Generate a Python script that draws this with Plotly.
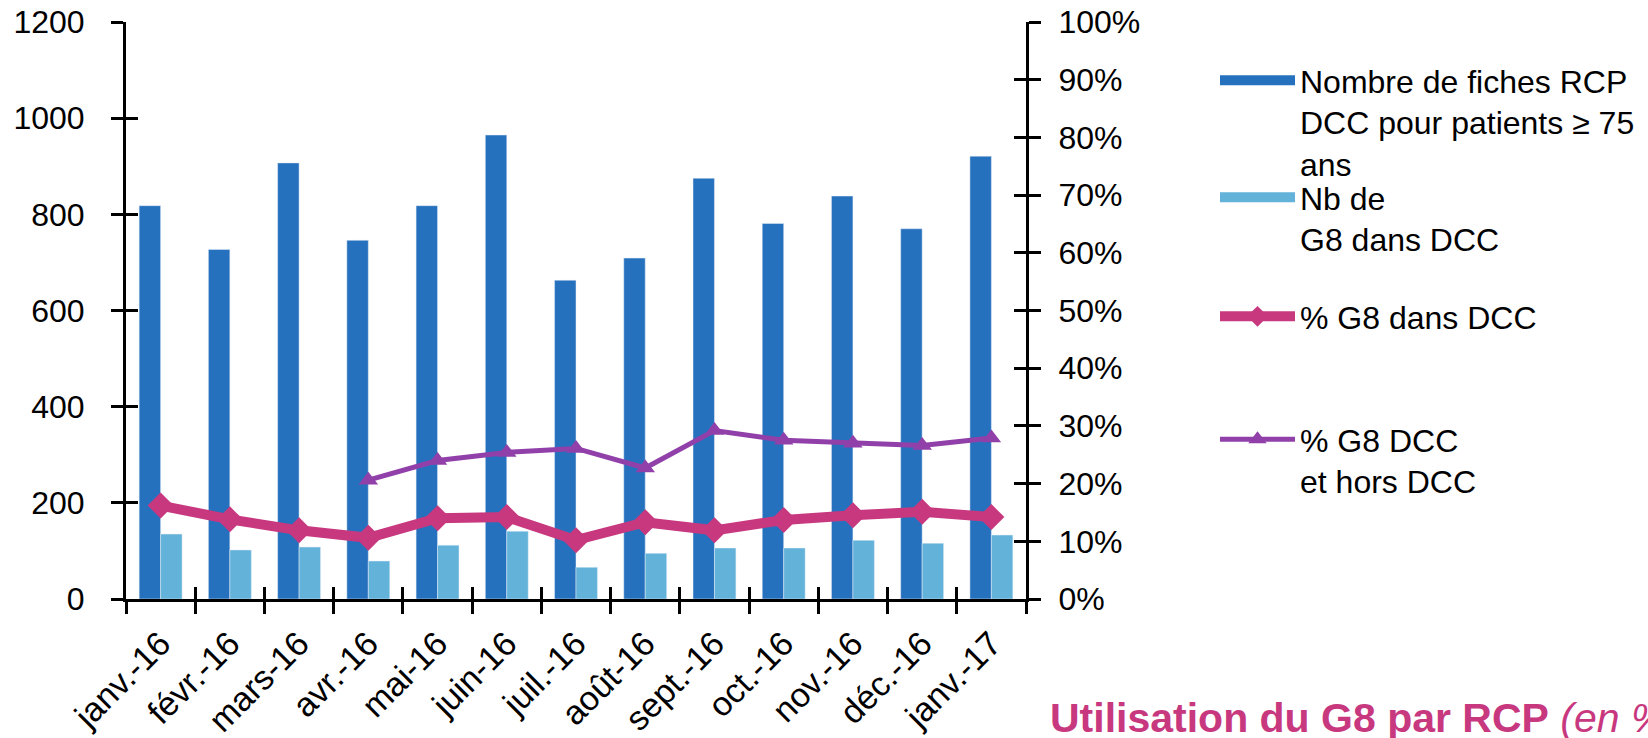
import plotly.graph_objects as go

months = ["janv.-16", "févr.-16", "mars-16", "avr.-16", "mai-16", "juin-16", "juil.-16",
          "août-16", "sept.-16", "oct.-16", "nov.-16", "déc.-16", "janv.-17"]
nb_fiches = [818, 727, 907, 746, 818, 965, 663, 709, 875, 781, 838, 770, 921]
nb_g8 = [135, 102, 108, 79, 112, 141, 66, 95, 106, 106, 122, 116, 133]
pct_g8_dcc = [0.162, 0.138, 0.119, 0.106, 0.140, 0.142, 0.102, 0.133, 0.119, 0.137, 0.145, 0.151, 0.142]
pct_g8_all = [None, None, None, 0.206, 0.240, 0.254, 0.261, 0.227, 0.292, 0.275, 0.270, 0.266, 0.279]

name_fiches = "Nombre de fiches RCP<br>DCC pour patients ≥ 75<br>ans"
name_g8 = "Nb de<br>G8 dans DCC"
name_pct = "% G8 dans DCC"
name_pct_all = "% G8 DCC<br>et hors DCC"

C_DARK = "#2671BE"
C_LIGHT = "#62B2DA"
C_PINK = "#C8387F"
C_PURPLE = "#9140AA"
FONT = "Liberation Sans, Arial, sans-serif"

fig = go.Figure()
fig.add_trace(go.Bar(x=months, y=nb_fiches, marker_color=C_DARK, showlegend=False, name=name_fiches))
fig.add_trace(go.Bar(x=months, y=nb_g8, marker_color=C_LIGHT, showlegend=False, name=name_g8))
fig.add_trace(go.Scatter(x=months, y=pct_g8_dcc, yaxis="y2", mode="lines+markers", name=name_pct,
                         line=dict(color=C_PINK, width=10),
                         marker=dict(symbol="diamond", size=20, color=C_PINK),
                         legend="legend3"))
fig.add_trace(go.Scatter(x=months, y=pct_g8_all, yaxis="y2", mode="lines+markers", name=name_pct_all,
                         line=dict(color=C_PURPLE, width=5),
                         marker=dict(symbol="triangle-up", size=17, color=C_PURPLE),
                         legend="legend4"))
# legend-only entries for the bar series (wide swatches)
fig.add_trace(go.Scatter(x=[None], y=[None], mode="lines", name=name_fiches,
                         line=dict(color=C_DARK, width=20), legend="legend", hoverinfo="skip"))
fig.add_trace(go.Scatter(x=[None], y=[None], mode="lines", name=name_g8,
                         line=dict(color=C_LIGHT, width=20), legend="legend2", hoverinfo="skip"))
# empty helper traces so the overlaid "inside tick" axes get drawn (cross tick marks)
fig.add_trace(go.Scatter(x=[None], y=[None], xaxis="x2", yaxis="y3", showlegend=False, hoverinfo="skip"))
fig.add_trace(go.Scatter(x=[None], y=[None], xaxis="x2", yaxis="y4", showlegend=False, hoverinfo="skip"))

# page body margin is removed (post_script), so positions are page pixels
PLOT_L, PLOT_R, PLOT_T, PLOT_B = 126, 1026, 22, 599
W, H = 1648, 738
T = float(PLOT_B - PLOT_T)
def py(px):
    return (PLOT_B - px) / T
def pxx(px):
    return (px - PLOT_L) / float(PLOT_R - PLOT_L)

leg_common = dict(x=pxx(1215), xanchor="left", yanchor="top", bgcolor="rgba(0,0,0,0)",
                  font=dict(family=FONT, size=32, color="#000000"), valign="top",
                  itemclick=False, itemdoubleclick=False)

axis_font = dict(family=FONT, size=32, color="#000000")

fig.update_layout(
    width=W, height=H,
    margin=dict(l=PLOT_L, r=W - PLOT_R, t=PLOT_T, b=H - PLOT_B, autoexpand=False),
    plot_bgcolor="white", paper_bgcolor="white",
    barmode="group", bargap=0.38, bargroupgap=0,
    font=dict(family=FONT, size=32, color="#000000"),
    xaxis=dict(type="category", categoryarray=months, range=[-0.5, 12.5],
               tickson="boundaries", ticks="outside", ticklen=12, tickwidth=2.5, tickcolor="black",
               showline=True, linecolor="black", linewidth=3, showgrid=False,
               tickangle=-45, tickfont=dict(family=FONT, size=34, color="#000000"),
               ticklabelstandoff=8, automargin=False, ticklabeloverflow="allow"),
    xaxis2=dict(type="category", categoryarray=months, range=[-0.5, 12.5], overlaying="x",
                anchor="y", side="bottom", tickson="boundaries", ticks="inside", ticklen=12,
                tickwidth=2.5, tickcolor="black", showticklabels=False, showline=False,
                showgrid=False, automargin=False),
    yaxis=dict(range=[0, 1200], dtick=200, ticks="outside", ticklen=12, tickwidth=2.5,
               tickcolor="black", showline=True, linecolor="black", linewidth=3,
               showgrid=False, zeroline=False, tickfont=axis_font, ticklabelstandoff=20,
               automargin=False, ticklabeloverflow="allow"),
    yaxis2=dict(range=[0, 1], dtick=0.1, tickformat=".0%", overlaying="y", side="right",
                anchor="x", ticks="outside", ticklen=12, tickwidth=2.5, tickcolor="black",
                showline=True, linecolor="black", linewidth=3, showgrid=False, zeroline=False,
                tickfont=axis_font, ticklabelstandoff=11, automargin=False,
                ticklabeloverflow="allow"),
    yaxis3=dict(range=[0, 1200], dtick=200, overlaying="y", anchor="x", side="left",
                ticks="inside", ticklen=12, tickwidth=2.5, tickcolor="black",
                showticklabels=False, showline=False, showgrid=False, zeroline=False,
                automargin=False),
    yaxis4=dict(range=[0, 1], dtick=0.1, overlaying="y", anchor="x", side="right",
                ticks="inside", ticklen=12, tickwidth=2.5, tickcolor="black",
                showticklabels=False, showline=False, showgrid=False, zeroline=False,
                automargin=False),
    legend=dict(y=py(53), itemwidth=75, **leg_common),
    legend2=dict(y=py(170), itemwidth=75, **leg_common),
    legend3=dict(y=py(289), itemwidth=75, **leg_common),
    legend4=dict(y=py(412), itemwidth=75, **leg_common),
    annotations=[dict(
        text="<b>Utilisation du G8 par RCP</b> <i>(en %)</i>",
        xref="paper", yref="paper", x=pxx(1048), y=py(693),
        xanchor="left", yanchor="top", showarrow=False, align="left",
        font=dict(family=FONT, size=41, color=C_PINK))],
)

fig.write_html("out.html", config={"displayModeBar": False},
               post_script="document.body.style.margin='0';")
